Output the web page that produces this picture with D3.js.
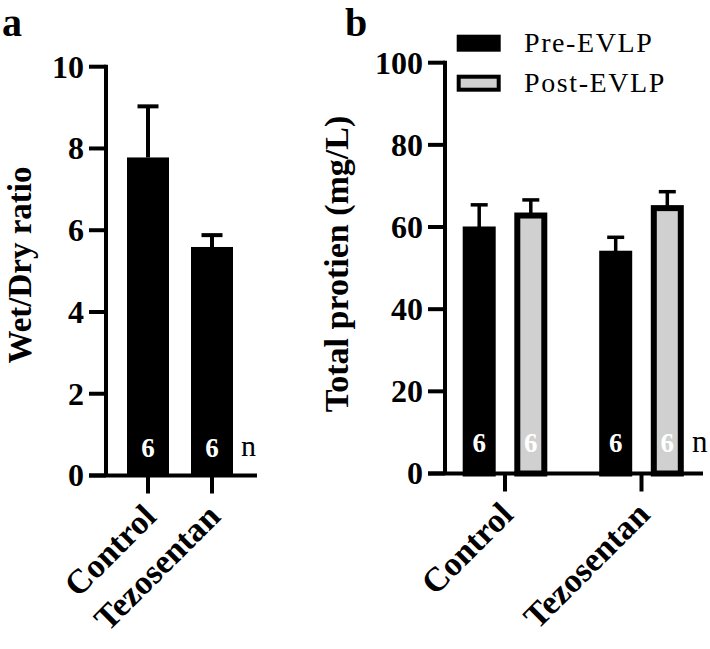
<!DOCTYPE html>
<html><head><meta charset="utf-8">
<script src="https://cdn.jsdelivr.net/npm/d3@7"></script>
<style>body{margin:0;background:#fff}svg{display:block}text{font-family:"Liberation Serif","Times New Roman",serif}</style>
</head><body>
<svg id="c" width="710" height="649"></svg>
<script>
// ---- data ----
const groupsA = ["Control", "Tezosentan"];
const wetDryMean = [7.78, 5.59];
const wetDryErr = [9.03, 5.88];
const nA = [6, 6];
const ticksA = [0, 2, 4, 6, 8, 10];

const groupsB = ["Control", "Tezosentan"];
const seriesB = ["Pre-EVLP", "Post-EVLP"];
const preMean = [59.4, 53.5];
const preErr = [65.4, 57.5];
const postMean = [62.8, 64.6];
const postErr = [66.6, 68.6];
const nB = [[6, 6], [6, 6]];
const ticksB = [0, 20, 40, 60, 80, 100];
const colors = ["#000000", "#d0d0d0"];

const svg = d3.select("#c");

// panel letters
svg.append("text").attr("x", 2).attr("y", 36).attr("font-size", 40).attr("font-weight", "bold").text("a");
svg.append("text").attr("x", 345).attr("y", 36).attr("font-size", 40).attr("font-weight", "bold").text("b");

function yAxis(g, y, x0, ticks, labelRight) {
  g.append("line").attr("x1", x0).attr("x2", x0).attr("y1", y(ticks[ticks.length - 1]) - 2).attr("y2", y(0))
    .attr("stroke", "#000").attr("stroke-width", 4);
  const t = g.selectAll(".yt").data(ticks).enter().append("g");
  t.append("line").attr("x1", x0 - 17).attr("x2", x0).attr("y1", d => y(d)).attr("y2", d => y(d))
    .attr("stroke", "#000").attr("stroke-width", 4);
  t.append("text").attr("x", labelRight).attr("y", d => y(d)).attr("dy", "0.34em")
    .attr("text-anchor", "end").attr("font-size", 32).attr("font-weight", "bold").text(d => d);
}

function xLabels(g, x, groups, y0) {
  groups.forEach(gname => {
    const cx = x(gname);
    g.append("line").attr("x1", cx).attr("x2", cx).attr("y1", y0).attr("y2", y0 + 18)
      .attr("stroke", "#000").attr("stroke-width", 4);
    g.append("text").attr("transform", `translate(${cx + 10},${y0 + 43}) rotate(-45)`)
      .attr("text-anchor", "end").attr("font-size", 34).attr("font-weight", "bold").text(gname);
  });
}

// ---------- Panel a ----------
{
  const g = svg.append("g");
  const y = d3.scaleLinear().domain([0, 10]).range([475.5, 66.7]);
  const x = d3.scalePoint().domain(groupsA).range([148, 212]);
  const bw = 42;
  groupsA.forEach((gn, i) => {
    g.append("line").attr("x1", x(gn)).attr("x2", x(gn)).attr("y1", y(wetDryMean[i])).attr("y2", y(wetDryErr[i]))
      .attr("stroke", "#000").attr("stroke-width", 4);
    g.append("line").attr("x1", x(gn) - 10.5).attr("x2", x(gn) + 10.5).attr("y1", y(wetDryErr[i])).attr("y2", y(wetDryErr[i]))
      .attr("stroke", "#000").attr("stroke-width", 4);
  });
  g.selectAll(".bar").data(groupsA).enter().append("rect")
    .attr("x", d => x(d) - bw / 2).attr("width", bw)
    .attr("y", (d, i) => y(wetDryMean[i])).attr("height", (d, i) => y(0) - y(wetDryMean[i]))
    .attr("fill", "#000");
  g.append("line").attr("x1", 89).attr("x2", 257).attr("y1", y(0)).attr("y2", y(0)).attr("stroke", "#000").attr("stroke-width", 4);
  yAxis(g, y, 106, ticksA, 84);
  xLabels(g, x, groupsA, y(0));
  groupsA.forEach((gn, i) => {
    g.append("text").attr("x", x(gn)).attr("y", 457).attr("text-anchor", "middle")
      .attr("font-size", 27).attr("font-weight", "bold").attr("fill", "#fff").text(nA[i]);
  });
  g.append("text").attr("x", 241).attr("y", 456).attr("font-size", 30).text("n");
  g.append("text").attr("transform", "translate(31,265) rotate(-90)").attr("text-anchor", "middle")
    .attr("font-size", 33).attr("font-weight", "bold").text("Wet/Dry ratio");
}

// ---------- Panel b ----------
{
  const g = svg.append("g");
  const y = d3.scaleLinear().domain([0, 100]).range([473.5, 62.7]);
  const x = d3.scalePoint().domain(groupsB).range([505, 641.5]);
  const xs = d3.scalePoint().domain(seriesB).range([-25.8, 25.8]);
  const means = [preMean, postMean];
  const errs = [preErr, postErr];
  const bw = 27;
  seriesB.forEach((s, si) => {
    groupsB.forEach((gn, gi) => {
      const cx = x(gn) + xs(s);
      g.append("line").attr("x1", cx).attr("x2", cx).attr("y1", y(means[si][gi])).attr("y2", y(errs[si][gi]))
        .attr("stroke", "#000").attr("stroke-width", 3.5);
      g.append("line").attr("x1", cx - 8.5).attr("x2", cx + 8.5).attr("y1", y(errs[si][gi])).attr("y2", y(errs[si][gi]))
        .attr("stroke", "#000").attr("stroke-width", 3.5);
    });
    g.selectAll(".b" + si).data(groupsB).enter().append("rect")
      .attr("x", d => x(d) + xs(s) - bw / 2).attr("width", bw)
      .attr("y", (d, gi) => y(means[si][gi])).attr("height", (d, gi) => y(0) - y(means[si][gi]))
      .attr("fill", colors[si]).attr("stroke", "#000").attr("stroke-width", 6);
  });
  g.append("line").attr("x1", 428).attr("x2", 703).attr("y1", y(0)).attr("y2", y(0)).attr("stroke", "#000").attr("stroke-width", 4);
  yAxis(g, y, 445, ticksB, 423);
  xLabels(g, x, groupsB, y(0));
  seriesB.forEach((s, si) => {
    groupsB.forEach((gn, gi) => {
      g.append("text").attr("x", x(gn) + xs(s)).attr("y", 452).attr("text-anchor", "middle")
        .attr("font-size", 27).attr("font-weight", "bold").attr("fill", "#fff").text(nB[gi][si]);
    });
  });
  g.append("text").attr("x", 692).attr("y", 452).attr("font-size", 31).text("n");
  g.append("text").attr("transform", "translate(348,264) rotate(-90)").attr("text-anchor", "middle")
    .attr("font-size", 34).attr("font-weight", "bold").text("Total protien (mg/L)");
  const lg = g.append("g");
  seriesB.forEach((s, si) => {
    const ly = 34.7 + si * 40;
    if (si === 0) {
      lg.append("rect").attr("x", 456.7).attr("y", ly).attr("width", 44).attr("height", 17).attr("fill", colors[si]);
    } else {
      lg.append("rect").attr("x", 458.7).attr("y", ly + 2).attr("width", 40).attr("height", 13)
        .attr("fill", colors[si]).attr("stroke", "#000").attr("stroke-width", 4);
    }
    lg.append("text").attr("x", 524).attr("y", ly + 17.5).attr("font-size", 28).attr("letter-spacing", "1.6px").text(s);
  });
}
</script>
</body></html>
